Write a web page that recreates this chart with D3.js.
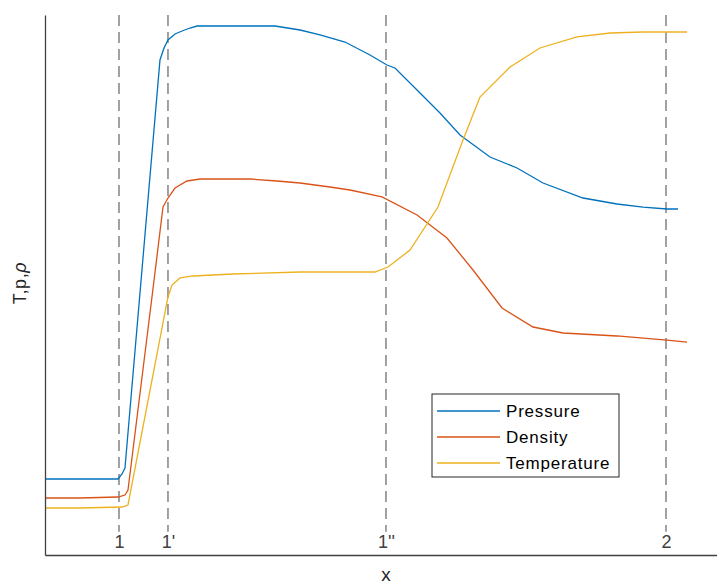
<!DOCTYPE html>
<html>
<head>
<meta charset="utf-8">
<script src="https://cdn.jsdelivr.net/npm/d3@7"></script>
<style>
  body { margin: 0; background: #fff; }
  text { font-family: "Liberation Sans", Arial, sans-serif; }
</style>
</head>
<body>
<div id="chart"></div>
<script>
// x and y are both on a 0..100 scale
var pressureX = [0, 5.21, 10.86, 11.46, 11.90, 17.11, 17.71, 18.30, 19.35, 20.39, 21.58, 22.62, 27.53, 34.23,
    37.95, 40.92, 44.64, 48.36, 50.89, 52.08, 55.36, 58.78, 61.76, 66.22, 70.24, 74.11, 80.06, 85.12, 88.99, 92.56, 94.20];
var pressureY = [14.07, 14.07, 14.07, 15.0, 16.11, 91.67, 93.89, 95.37, 96.48, 97.04, 97.59, 97.96, 97.96, 97.96,
    97.22, 96.30, 95.0, 92.59, 90.74, 90.19, 86.11, 81.85, 77.78, 73.70, 71.67, 68.89, 66.11, 65.0, 64.44, 64.07, 64.07];

var densityX = [0, 5.21, 10.86, 11.90, 12.35, 15.92, 17.56, 18.30, 19.35, 21.13, 23.07, 30.51, 34.52, 37.95,
    42.41, 45.39, 50.15, 55.36, 59.82, 63.69, 68.01, 72.62, 77.08, 85.12, 92.56, 95.54];
var densityY = [10.56, 10.56, 10.74, 11.11, 12.04, 47.78, 64.44, 66.11, 67.96, 69.26, 69.63, 69.63, 69.26, 68.89,
    68.15, 67.59, 66.30, 62.96, 58.70, 52.78, 45.74, 42.22, 41.11, 40.56, 39.81, 39.44];

var temperatureX = [0, 5.21, 11.46, 12.35, 18.30, 18.90, 20.09, 22.02, 27.98, 37.95, 45.39, 49.11, 51.04, 54.32,
    58.48, 62.20, 64.73, 69.20, 73.66, 79.17, 84.08, 88.99, 95.54];
var temperatureY = [8.70, 8.70, 8.89, 9.26, 47.78, 50.0, 51.30, 51.67, 52.04, 52.41, 52.41, 52.41, 53.33, 56.48,
    64.44, 76.85, 84.81, 90.37, 93.89, 95.93, 96.67, 96.85, 96.85];

var markX = [11.01, 18.30, 50.74, 92.41];
var markLabels = ["1", "1'", "1''", "2"];

var seriesNames = ["Pressure", "Density", "Temperature"];
var colors = ["#0072BD", "#D95319", "#EDB120"];

var w = 717, h = 586;
var padL = 45, padR = 717, padT = 15, padB = 555;

var svg = d3.select("#chart").append("svg")
    .attr("width", w)
    .attr("height", h);

var x = d3.scaleLinear().domain([0, 100]).range([padL, padR]);
var y = d3.scaleLinear().domain([0, 100]).range([padB, padT]);

// dashed markers
svg.selectAll("line.mark")
    .data(markX)
    .enter()
    .append("line")
    .attr("class", "mark")
    .attr("x1", function (d) { return x(d); })
    .attr("x2", function (d) { return x(d); })
    .attr("y1", y(100))
    .attr("y2", y(4.3))
    .attr("stroke", "#7a7a7a")
    .attr("stroke-width", 1.4)
    .attr("stroke-dasharray", "11,6");

var line = d3.line()
    .x(function (d) { return x(d[0]); })
    .y(function (d) { return y(d[1]); });

var series = [
    d3.zip(pressureX, pressureY),
    d3.zip(densityX, densityY),
    d3.zip(temperatureX, temperatureY)
];

svg.selectAll("path.series")
    .data(series)
    .enter()
    .append("path")
    .attr("class", "series")
    .attr("d", line)
    .attr("fill", "none")
    .attr("stroke", function (d, i) { return colors[i]; })
    .attr("stroke-width", 1.3);

// axes
var xAxis = svg.append("g")
    .attr("transform", "translate(0," + padB + ")")
    .call(d3.axisTop(x).tickValues(markX)
        .tickFormat(function (d, i) { return markLabels[i]; })
        .tickSize(0).tickPadding(7));
xAxis.select(".domain").attr("stroke", "#404040").attr("stroke-width", 1.3);
xAxis.selectAll("text")
    .attr("font-size", "18px")
    .attr("fill", "#404040")
    .style("font-family", "'Liberation Sans', Arial, sans-serif");

var yAxis = svg.append("g")
    .attr("transform", "translate(" + padL + ",0)")
    .call(d3.axisLeft(y).tickValues([]).tickSizeOuter(0));
yAxis.select(".domain").attr("stroke", "#404040").attr("stroke-width", 1.3);

svg.append("text")
    .attr("x", x(50.74))
    .attr("y", 581)
    .attr("text-anchor", "middle")
    .attr("font-size", "19px")
    .attr("fill", "#262626")
    .text("x");

var yl = svg.append("text")
    .attr("transform", "translate(26,283) rotate(-90)")
    .attr("text-anchor", "middle")
    .attr("font-size", "18px")
    .attr("letter-spacing", "0.6px")
    .attr("fill", "#262626");
yl.append("tspan").text("T,p,");
yl.append("tspan").attr("font-style", "italic").text("ρ");

// legend
var lg = svg.append("g").attr("transform", "translate(432,394)");
lg.append("rect")
    .attr("width", 187)
    .attr("height", 83)
    .attr("fill", "#fff")
    .attr("stroke", "#262626")
    .attr("stroke-width", 1);

var item = lg.selectAll("g.item")
    .data(seriesNames)
    .enter()
    .append("g")
    .attr("class", "item")
    .attr("transform", function (d, i) { return "translate(0," + (17 + i * 26) + ")"; });
item.append("line")
    .attr("x1", 5).attr("x2", 68)
    .attr("stroke", function (d, i) { return colors[i]; })
    .attr("stroke-width", 1.3);
item.append("text")
    .attr("x", 74)
    .attr("y", 6)
    .attr("font-size", "17px")
    .attr("letter-spacing", "0.8px")
    .attr("fill", "#000")
    .text(function (d) { return d; });
</script>
</body>
</html>
